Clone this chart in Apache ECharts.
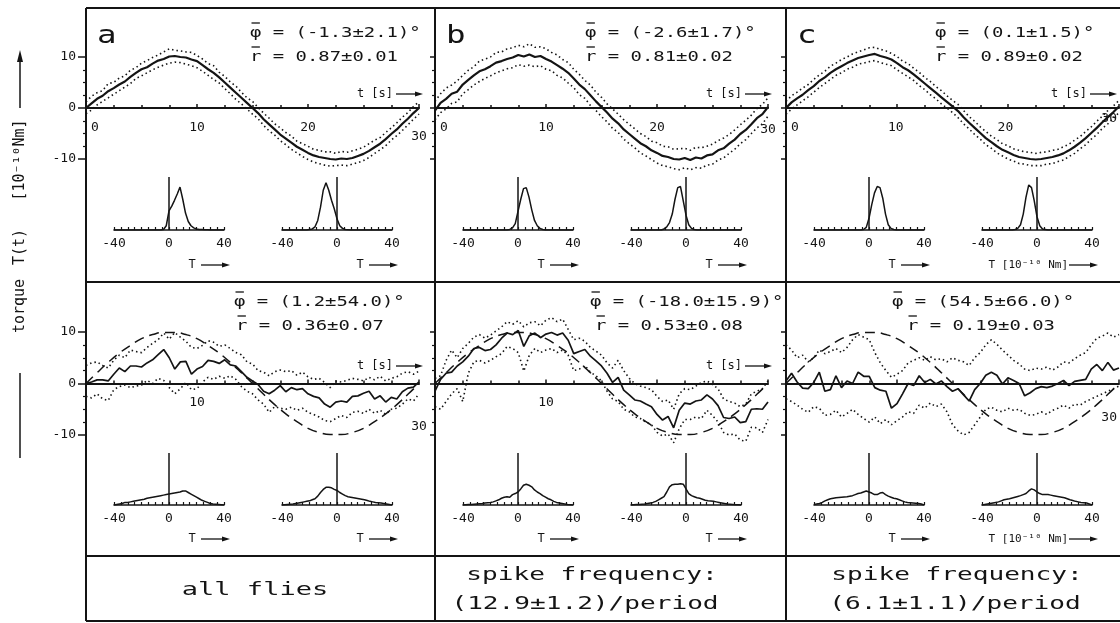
<!DOCTYPE html>
<html>
<head>
<meta charset="utf-8">
<script src="https://cdn.jsdelivr.net/npm/echarts@6/dist/echarts.min.js"></script>
<style>
  html, body { margin: 0; padding: 0; background: #fff; }
  #main { width: 1120px; height: 623px; }
</style>
</head>
<body>
<div id="main"></div>
<script>
// ---- torque traces, sampled every 0.5 s over one 30 s period [10^-10 Nm] ----
const T_STEP = 0.5;

// upper row: a, b, c  (mean trace and the two dotted bounds)
const topA_mean = [0,0.9,1.8,2.4,3.3,3.9,4.6,5.2,6.1,6.9,7.6,8.0,8.7,9.3,9.6,10.1,10.2,10.0,9.9,9.5,9.2,8.4,7.6,6.9,6.0,5.0,4.0,3.0,2.0,1.0,0.0,-1.0,-2.2,-3.2,-4.2,-5.2,-6.0,-6.8,-7.6,-8.2,-8.8,-9.3,-9.6,-9.8,-10.0,-10.1,-9.9,-10.0,-9.8,-9.4,-9.0,-8.4,-7.7,-7.0,-6.1,-5.1,-4.2,-3.1,-2.1,-1.0,0.0];
const topA_hi = [1.2,2.3,3.0,3.4,4.8,5.0,5.9,6.3,7.4,7.9,8.8,9.3,9.9,10.4,11.0,11.6,11.3,11.2,11.0,10.9,10.3,9.6,8.7,8.3,7.0,6.2,5.1,4.3,3.1,2.0,1.3,0.1,-1.0,-2.0,-3.1,-3.9,-4.8,-5.5,-6.5,-7.0,-7.5,-8.1,-8.3,-8.6,-8.6,-8.9,-8.5,-8.7,-8.4,-8.1,-7.7,-7.0,-6.3,-5.8,-4.8,-3.9,-2.9,-1.8,-0.9,0.3,1.2];
const topA_lo = [-1.1,-0.4,0.6,1.3,2.0,2.7,3.4,4.1,4.8,5.8,6.3,6.9,7.5,8.0,8.4,8.8,9.0,8.9,8.6,8.3,7.9,7.2,6.4,5.6,4.9,3.8,2.8,1.7,0.8,-0.2,-1.2,-2.1,-3.4,-4.5,-5.3,-6.4,-7.2,-8.1,-8.8,-9.5,-10.1,-10.6,-10.9,-11.2,-11.4,-11.3,-11.2,-11.3,-11.0,-10.7,-10.3,-9.7,-8.9,-8.2,-7.4,-6.3,-5.4,-4.4,-3.3,-2.2,-1.2];

const topB_mean = [-0.5,1.0,1.8,2.8,3.2,4.6,5.5,6.4,7.2,7.6,8.2,8.9,9.2,9.6,9.9,10.4,10.1,10.5,10.0,10.2,9.6,9.1,8.4,7.7,6.9,5.8,4.6,3.7,2.5,1.3,0.2,-0.9,-2.1,-3.0,-4.2,-5.1,-6.0,-6.9,-7.5,-8.3,-8.8,-9.4,-9.6,-10.0,-10.1,-9.8,-10.2,-9.7,-9.9,-9.3,-9.1,-8.3,-7.9,-7.0,-6.2,-5.1,-4.3,-3.2,-2.0,-1.2,0.2];
const topB_hi = [1.3,2.8,3.9,4.5,5.3,6.4,7.4,8.1,9.2,9.6,10.0,10.9,11.0,11.6,11.8,12.3,12.0,12.6,11.9,12.0,11.6,10.9,10.4,9.5,8.9,7.6,6.6,5.4,4.5,3.1,2.1,0.8,-0.2,-1.2,-2.3,-3.2,-4.1,-5.0,-5.6,-6.5,-6.8,-7.5,-7.6,-8.1,-8.0,-7.9,-8.3,-7.7,-7.8,-7.5,-7.1,-6.4,-5.9,-5.2,-4.3,-3.3,-2.4,-1.4,-0.1,0.7,2.0];
const topB_lo = [-2.3,-0.9,-0.2,0.9,1.2,2.8,3.6,4.5,5.2,5.8,6.3,6.9,7.3,7.7,7.9,8.5,8.2,8.4,8.1,8.3,7.6,7.3,6.4,5.9,4.9,4.0,2.6,1.9,0.5,-0.5,-1.7,-2.7,-4.0,-4.8,-6.1,-7.0,-7.8,-8.8,-9.4,-10.1,-10.8,-11.3,-11.5,-11.9,-12.1,-11.7,-12.1,-11.7,-11.8,-11.2,-11.0,-10.2,-9.8,-8.9,-8.1,-7.0,-6.2,-5.0,-3.9,-3.1,-1.6];

const topC_mean = [0,1.1,1.9,2.6,3.5,4.3,5.3,6.0,6.9,7.6,8.2,8.8,9.3,9.8,10.1,10.4,10.6,10.2,9.9,9.5,8.8,8.0,7.4,6.6,5.7,4.8,3.9,3.0,2.1,1.2,0.3,-0.6,-1.8,-2.9,-3.9,-4.9,-5.9,-6.7,-7.5,-8.2,-8.7,-9.2,-9.6,-9.8,-10.0,-10.1,-10.0,-9.8,-9.6,-9.3,-8.9,-8.3,-7.6,-6.8,-5.9,-4.9,-3.9,-2.8,-1.8,-0.8,0.3];
const topC_hi = [1.3,2.4,3.1,3.9,4.6,5.6,6.5,7.2,8.2,8.8,9.5,10.0,10.6,11.0,11.4,11.8,11.9,11.5,11.2,10.7,10.1,9.2,8.7,7.8,7.0,6.0,5.2,4.2,3.4,2.4,1.5,0.7,-0.5,-1.7,-2.6,-3.7,-4.6,-5.5,-6.2,-7.0,-7.4,-8.0,-8.3,-8.6,-8.7,-8.9,-8.7,-8.6,-8.3,-8.1,-7.6,-7.1,-6.3,-5.6,-4.6,-3.7,-2.6,-1.6,-0.5,0.4,1.5];
const topC_lo = [-1.2,-0.2,0.6,1.4,2.2,3.1,4.0,4.8,5.6,6.4,6.9,7.6,8.0,8.6,8.8,9.1,9.3,8.9,8.6,8.3,7.5,6.8,6.1,5.4,4.4,3.6,2.6,1.8,0.8,0.0,-0.9,-1.9,-3.1,-4.1,-5.2,-6.1,-7.2,-7.9,-8.8,-9.4,-10.0,-10.4,-10.9,-11.0,-11.3,-11.3,-11.3,-11.0,-10.9,-10.5,-10.2,-9.5,-8.9,-8.0,-7.2,-6.1,-5.2,-4.0,-3.1,-2.0,-0.9];

// lower row: a, b, c
const botA_mean = [0,0.3,0.7,0.7,0.5,1.8,3.0,2.3,3.4,3.4,3.2,4.0,4.6,5.6,6.6,5.0,2.8,4.2,4.3,1.8,2.8,3.3,4.5,4.3,3.9,4.6,3.6,3.4,2.3,1.2,0.5,-0.2,-1.5,-2.0,-1.3,-0.4,-1.6,-0.8,-1.2,-1.0,-2.0,-2.5,-2.8,-4.0,-4.6,-3.6,-3.4,-3.6,-2.5,-2.4,-1.9,-1.5,-3.0,-2.4,-3.6,-2.7,-3.0,-1.6,-0.9,-0.7,0.3];
const botA_hi = [3.5,4.0,4.2,3.5,3.0,4.5,5.5,5.0,6.5,6.2,6.0,7.0,7.8,8.5,9.8,8.6,9.9,9.0,8.2,7.0,6.8,7.4,8.3,8.0,7.2,7.5,6.8,6.0,5.6,4.2,3.8,2.5,2.2,1.5,2.3,2.6,2.3,2.5,1.6,2.2,1.3,0.8,1.0,0.2,-0.8,0.5,0.3,0.6,1.0,0.8,0.5,1.2,0.7,1.4,0.5,1.0,1.3,2.0,2.3,1.8,2.4];
const botA_lo = [-2.5,-2.8,-2.0,-3.0,-3.3,-1.2,-0.6,-0.3,-0.8,-0.5,-0.3,0.6,0.0,1.0,0.6,-0.8,-2.0,-1.0,0.2,-1.2,-1.0,0.3,1.2,0.8,1.4,1.0,1.5,0.8,-0.6,-1.5,-2.0,-3.2,-4.0,-5.6,-4.5,-4.8,-5.0,-4.6,-5.2,-4.8,-5.6,-6.0,-6.5,-7.2,-7.4,-6.8,-6.2,-6.6,-5.6,-5.4,-5.8,-5.0,-5.8,-5.2,-6.0,-5.0,-4.8,-4.0,-3.0,-3.4,-2.0];

const botB_mean = [-1.5,0.8,2.0,2.2,3.4,4.2,5.3,6.8,7.0,6.4,6.6,7.5,8.8,9.8,9.5,10.3,7.2,9.3,9.8,8.9,9.6,9.9,9.4,9.8,8.4,5.8,6.2,6.6,5.3,4.4,3.4,2.0,0.2,1.2,-1.3,-2.2,-3.2,-3.4,-4.0,-4.5,-6.0,-7.1,-6.4,-8.6,-5.2,-3.8,-4.0,-3.4,-3.2,-2.2,-3.0,-4.3,-6.6,-6.8,-6.5,-7.6,-7.4,-5.0,-4.9,-5.0,-3.6];
const botB_hi = [1.0,1.5,4.5,6.5,5.0,6.8,7.8,9.0,9.5,8.8,9.4,10.2,11.0,12.0,11.5,12.2,11.0,11.8,12.0,11.2,12.3,12.8,12.0,12.5,10.5,8.5,8.8,8.2,7.0,6.3,5.5,4.0,3.0,4.5,2.5,1.0,0.0,-0.5,-0.8,-1.2,-2.5,-3.5,-3.2,-5.0,-2.0,-1.0,-1.2,-0.5,0.2,0.5,-0.2,-1.0,-3.0,-3.5,-3.8,-4.5,-4.0,-2.0,-1.5,-1.0,0.5];
const botB_lo = [-4.5,-5.0,-3.5,-2.0,-1.0,-3.5,2.0,4.2,4.5,4.0,4.5,5.2,5.8,7.2,6.8,6.0,2.4,5.5,6.8,6.0,6.5,6.8,6.0,6.5,5.5,2.5,2.8,3.5,2.2,1.5,0.5,-1.5,-3.0,-3.5,-5.0,-5.5,-6.5,-6.8,-7.5,-8.0,-9.5,-10.2,-9.8,-11.5,-8.8,-7.0,-7.0,-6.5,-6.8,-5.2,-6.2,-7.5,-9.5,-10.0,-9.8,-11.0,-11.2,-8.5,-8.6,-9.5,-7.0];

const botC_mean = [0.5,2.0,0.3,-0.9,-1.0,0.2,2.2,-1.5,-1.2,1.5,-0.8,0.5,0.0,2.2,1.4,1.4,-0.8,-1.3,-1.5,-4.8,-3.9,-2.0,0.0,-0.4,1.5,0.2,0.8,-0.1,0.5,-0.6,-1.5,-1.0,-2.2,-3.4,-1.2,0.0,1.6,2.2,1.6,-0.1,1.1,0.6,0.0,-2.4,-1.8,-1.0,-0.6,-0.8,-0.5,0.0,0.6,-0.4,0.4,0.6,0.8,2.8,3.7,2.5,4.1,2.6,3.0];
const botC_hi = [7.5,6.5,5.0,5.5,4.2,5.0,6.5,5.8,6.2,6.8,6.0,7.0,8.5,9.5,9.0,8.5,6.0,4.0,2.5,1.2,1.8,2.5,4.0,4.5,5.0,4.5,5.2,4.6,4.8,4.2,5.0,4.5,4.2,3.5,5.0,6.0,7.5,8.5,7.6,6.5,5.5,4.5,3.8,2.8,2.5,3.0,2.8,3.2,2.6,3.2,4.2,4.0,4.8,5.5,6.0,7.5,8.8,9.2,9.8,9.0,9.5];
const botC_lo = [-3.0,-3.5,-4.2,-5.0,-5.6,-4.5,-4.8,-6.2,-6.0,-5.2,-6.5,-5.8,-5.0,-6.0,-6.8,-7.5,-6.5,-7.8,-7.0,-8.0,-7.2,-6.5,-5.5,-5.8,-4.2,-4.8,-3.8,-4.5,-4.0,-5.5,-8.0,-9.2,-10.0,-9.5,-8.0,-6.5,-5.0,-4.6,-5.2,-5.5,-4.8,-5.2,-5.0,-5.8,-6.2,-6.0,-5.5,-6.0,-5.2,-4.8,-4.2,-4.8,-4.0,-4.2,-3.5,-3.0,-2.5,-2.0,-1.5,-1.0,-0.5];

// dashed reference course of the lower row, one value per second
const REF_STEP = 1;
const refCourse = [0,2.1,4.1,5.9,7.4,8.7,9.5,9.9,9.9,9.5,8.7,7.4,5.9,4.1,2.1,0,-2.1,-4.1,-5.9,-7.4,-8.7,-9.5,-9.9,-9.9,-9.5,-8.7,-7.4,-5.9,-4.1,-2.1,0];

// ---- torque histograms (relative frequency, %) ----
const histT = [-40,-38,-36,-34,-32,-30,-28,-26,-24,-22,-20,-18,-16,-14,-12,-10,-8,-6,-4,-2,0,2,4,6,8,10,12,14,16,18,20,22,24,26,28,30,32,34,36,38,40];

const histTopA_L = [0,0,0,0,0,0,0,0,0,0,0,0,0,0,0,0,0,0,1,8,36,45,56,68,81,58,32,16,8,4,2,1,1,0.5,0.5,0,0,0,0,0,0];
const histTopA_R = [0,0,0,0,0,0,0,0,0,0,1,2,6,18,43,75,89,75,56,40,21,8,3,1,0.5,0,0,0,0,0,0,0,0,0,0,0,0,0,0,0,0];
const histTopB_L = [0,0,0,0,0,0,0,0,0,0,0,0,0,0,0,0,0,1,4,12,35,58,78,80,62,38,18,8,3,1,0,0,0,0,0,0,0,0,0,0,0];
const histTopB_R = [0,0,0,0,0,0,0,0,0,0,0,0,2,6,14,30,58,80,82,55,28,10,3,1,0,0,0,0,0,0,0,0,0,0,0,0,0,0,0,0,0];
const histTopC_L = [0,0,0,0,0,0,0,0,0,0,0,0,0,0,0,0,0,0,1,5,22,48,70,82,80,60,30,10,3,1,0,0,0,0,0,0,0,0,0,0,0];
const histTopC_R = [0,0,0,0,0,0,0,0,0,0,0,0,1,3,10,30,62,85,80,55,25,8,2,1,0,0,0,0,0,0,0,0,0,0,0,0,0,0,0,0,0];

const histBotA_L = [0,1,2,3,5,5,6,7,8,9,10,11,13,14,15,16,17,18,19,20,21,22,23,24,25,27,27,24,21,18,15,12,9,7,5,3,2,1.5,1,0.5,0];
const histBotA_R = [0,0.5,1,1.5,2,3,4,5,6,7,8,10,12,17,24,30,34,34,33,30,28,24,21,18,16,15,14,13,12,11,10,8.5,7,6,5,4.5,4,3,2,1,0];
const histBotB_L = [0,0.5,1,1,1.5,2,2.5,3,4,4.5,5,6,8,10,13,15,16,15,20,22,25,31,38,40,38,35,29,25,22,18,15,12,10,7,5,4,3,2,1,0.5,0];
const histBotB_R = [0,0.5,1,1,1.5,2,3,4,5,7,10,13,16,25,35,39,40,40,41,40,31,22,18,16,14,13,11,9,8,7.5,7,6,5,4,3,2,1.5,1,0.5,0.5,0];
const histBotC_L = [1,2,3,5,8,10,12,13,14,14.5,15,15.5,16,17,18,20,22,23,25,27,25,23,20,20,23,24,20,17,15,13,12,10,8,6,5,4.5,4,3.5,3,2,0];
const histBotC_R = [0,1,2,3,4,5,6,8,10,11,12,13.5,15,16.5,18,20,22,27,31,29,25,22,20,20,20,19,18,17,16,15,14,12,10,8.5,7,6,5,4.5,4,2,0];

// ---- annotation texts (the leading symbol carries a bar drawn above it) ----
const panelLetters = ['a', 'b', 'c'];
const statsTop = [
  ['φ = (-1.3±2.1)°', 'r = 0.87±0.01'],
  ['φ = (-2.6±1.7)°', 'r = 0.81±0.02'],
  ['φ = (0.1±1.5)°',  'r = 0.89±0.02']
];
const statsBot = [
  ['φ = (1.2±54.0)°',   'r = 0.36±0.07'],
  ['φ = (-18.0±15.9)°', 'r = 0.53±0.08'],
  ['φ = (54.5±66.0)°',  'r = 0.19±0.03']
];
const groupTitles = [['all flies'], ['spike frequency:', '(12.9±1.2)/period'], ['spike frequency:', '(6.1±1.1)/period']];

// ---------------------------------------------------------------------------
const FONT = '"DejaVu Sans Mono", "Liberation Mono", monospace';
const INK = '#141414';

const colLeft = [86, 435, 786];
const tsTop = [57, 332], tsH = [102, 103];     // trace grids (y: -10..10)
const hTop = [177, 453], hH = [53, 52];        // histogram grids
const T_SPAN = 333;                            // 0..30 s
const H_OFF = [28, 196], H_W = 110;            // histogram offsets inside a column

const toPairs = (arr, step) => arr.map((v, i) => [i * step, v]);
const histPairs = arr => arr.map((v, i) => [histT[i], v]);

const panels = [
  { row: 0, col: 0, mean: topA_mean, hi: topA_hi, lo: topA_lo, hL: histTopA_L, hR: histTopA_R, tl: {0: 9, 10: 9, 20: 9, 30: 18} },
  { row: 0, col: 1, mean: topB_mean, hi: topB_hi, lo: topB_lo, hL: histTopB_L, hR: histTopB_R, tl: {0: 9, 10: 9, 20: 9, 30: 11} },
  { row: 0, col: 2, mean: topC_mean, hi: topC_hi, lo: topC_lo, hL: histTopC_L, hR: histTopC_R, tl: {0: 9, 10: 9, 20: 9, 30: 0} },
  { row: 1, col: 0, mean: botA_mean, hi: botA_hi, lo: botA_lo, hL: histBotA_L, hR: histBotA_R, tl: {10: 9, 30: 33}, ref: true },
  { row: 1, col: 1, mean: botB_mean, hi: botB_hi, lo: botB_lo, hL: histBotB_L, hR: histBotB_R, tl: {10: 9}, ref: true },
  { row: 1, col: 2, mean: botC_mean, hi: botC_hi, lo: botC_lo, hL: histBotC_L, hR: histBotC_R, tl: {30: 24}, ref: true }
];

const grid = [], xAxis = [], yAxis = [], series = [];
function addGrid(g, xa, ya) {
  const i = grid.length;
  grid.push(g);
  xa.gridIndex = i; ya.gridIndex = i;
  xAxis.push(xa); yAxis.push(ya);
  return i;
}
const lbl = (size) => ({ fontFamily: FONT, fontSize: size, color: INK });
const hiddenY = () => ({ type: 'value', show: false, splitLine: { show: false } });

panels.forEach(p => {
  const left = colLeft[p.col];
  // ---- time trace ----
  const gi = addGrid(
    { left: left, top: tsTop[p.row], width: T_SPAN, height: tsH[p.row] },
    {
      type: 'value', min: 0, max: 30, interval: 10,
      axisLine: { onZero: true, lineStyle: { color: INK, width: 2 } },
      axisTick: { show: true, inside: true, length: 4, lineStyle: { color: INK, width: 1.5 } },
      minorTick: { show: true, splitNumber: 4, length: 3, lineStyle: { color: INK, width: 1.5 } },
      splitLine: { show: false }, minorSplitLine: { show: false },
      axisLabel: { show: false }
    },
    {
      type: 'value', min: -10, max: 10, interval: 10,
      axisLine: { show: false },
      axisTick: { show: true, length: p.col === 0 ? 8 : 5, lineStyle: { color: INK, width: 1.5 } },
      minorTick: { show: true, splitNumber: 4, length: 3, lineStyle: { color: INK, width: 1.2 } },
      splitLine: { show: false }, minorSplitLine: { show: false },
      axisLabel: Object.assign({ show: p.col === 0, margin: 10 }, lbl(13))
    }
  );
  // time labels hang from the zero line: a companion axis whose bottom edge sits at T = 0
  const rich = {};
  Object.keys(p.tl).forEach(k => {
    rich['p' + k] = Object.assign(lbl(13), { padding: [p.tl[k], k === '30' && p.col === 2 ? 12 : 0, 0, k === '0' ? 18 : 0] });
  });
  addGrid(
    { left: left, top: tsTop[p.row], width: T_SPAN, height: tsH[p.row] / 2 },
    {
      type: 'value', min: 0, max: 30, interval: 10,
      axisLine: { show: false }, axisTick: { show: false }, splitLine: { show: false },
      axisLabel: { margin: 4, formatter: v => (v in p.tl) ? '{p' + v + '|' + v + '}' : '', rich: rich }
    },
    hiddenY()
  );

  const common = { type: 'line', xAxisIndex: gi, yAxisIndex: gi, showSymbol: false, silent: true, clip: false };
  series.push(Object.assign({}, common, { data: toPairs(p.hi, T_STEP), lineStyle: { color: INK, width: 1.6, type: [1.5, 3] }, z: 2 }));
  series.push(Object.assign({}, common, { data: toPairs(p.lo, T_STEP), lineStyle: { color: INK, width: 1.6, type: [1.5, 3] }, z: 2 }));
  if (p.ref) {
    series.push(Object.assign({}, common, { data: toPairs(refCourse, REF_STEP), smooth: true, lineStyle: { color: INK, width: 1.5, type: [10, 6] }, z: 2 }));
  }
  series.push(Object.assign({}, common, { data: toPairs(p.mean, T_STEP), lineStyle: { color: INK, width: p.row === 0 ? 2.2 : 1.7 }, z: 3 }));

  // ---- the two histograms ----
  [p.hL, p.hR].forEach((h, k) => {
    const hi = addGrid(
      { left: left + H_OFF[k], top: hTop[p.row], width: H_W, height: hH[p.row] },
      {
        type: 'value', min: -40, max: 40, interval: 40,
        axisLine: { onZero: false, lineStyle: { color: INK, width: 1.6 } },
        axisTick: { show: true, inside: true, length: 3, lineStyle: { color: INK, width: 1.2 } },
        minorTick: { show: true, splitNumber: 8, length: 3, lineStyle: { color: INK, width: 1.2 } },
        splitLine: { show: false }, minorSplitLine: { show: false },
        axisLabel: Object.assign({ margin: 7 }, lbl(13))
      },
      { type: 'value', min: 0, max: 100, show: false, splitLine: { show: false } }
    );
    series.push({
      type: 'line', xAxisIndex: hi, yAxisIndex: hi, data: histPairs(h), showSymbol: false, silent: true,
      lineStyle: { color: INK, width: 1.5 },
      markLine: {
        silent: true, symbol: 'none', label: { show: false },
        lineStyle: { color: INK, width: 1.5, type: 'solid' },
        data: [{ xAxis: 0 }]
      }
    });
  });
});

// ---- frame, titles and labels ----
const g = [];
const line = (x1, y1, x2, y2, w) => ({ type: 'line', silent: true, shape: { x1, y1, x2, y2 }, style: { stroke: INK, lineWidth: w || 2 } });
const text = (x, y, s, size, align, sx, rot) => ({
  type: 'text', silent: true, x, y, scaleX: sx || 1, rotation: rot || 0,
  style: { text: s, font: size + 'px ' + FONT, fill: INK, textAlign: align || 'left', textVerticalAlign: 'middle' }
});
function hArrow(x1, x2, y) {
  g.push(line(x1, y, x2 - 5, y, 1.3));
  g.push({ type: 'polygon', silent: true, shape: { points: [[x2, y], [x2 - 8, y - 2.6], [x2 - 8, y + 2.6]] }, style: { fill: INK } });
}
// statistic with a bar over its leading symbol
const STAT_SX = 1.35, STAT_ADV = 14 * 0.602 * STAT_SX;
function stat(x, y, s) {
  g.push(text(x, y, s, 14, 'left', STAT_SX));
  g.push(line(x + 1.5, y - 10, x + STAT_ADV - 1.5, y - 10, 1.3));
}

// panel frame
[8, 282, 556, 621].forEach(y => g.push(line(86, y, 1130, y)));
[86, 435, 786].forEach(x => g.push(line(x, 8, x, 621)));

colLeft.forEach((left, c) => {
  g.push(text(left + 11, 36, panelLetters[c], 25, 'left', 1.3));
  const sx = [250, 585, 935][c];
  stat(sx, 33, statsTop[c][0]);
  stat(sx, 57, statsTop[c][1]);
  stat([234, 590, 892][c], 302, statsBot[c][0]);
  stat([236, 595, 907][c], 326, statsBot[c][1]);
  // histogram axis names
  [0, 1].forEach(r => {
    const y = [265, 539][r];
    [0, 1].forEach(k => {
      const hl = left + H_OFF[k];
      if (c === 2 && k === 1) {
        g.push(text(hl + 86, y, 'T [10⁻¹⁰ Nm]', 11, 'right', 1));
      } else {
        g.push(text(hl + 78, y, 'T', 12, 'center', 1));
      }
      hArrow(hl + 87, hl + 116, y);
    });
  });
});

// time-axis names
[[0, 0], [0, 1], [0, 2], [1, 0], [1, 1]].forEach(([r, c]) => {
  const end = Math.min(colLeft[c] + T_SPAN + 4, 1117);
  const y = [94, 366][r];
  g.push(text(end - 30, y, 't [s]', 12, 'right', 1));
  hArrow(end - 27, end, y);
});

// y-axis title
g.push(text(20, 160, '[10⁻¹⁰Nm]', 15, 'center', 1, Math.PI / 2));
g.push(text(20, 247, 'T(t)', 15, 'center', 1, Math.PI / 2));
g.push(text(20, 306, 'torque', 15, 'center', 1, Math.PI / 2));
g.push(line(20, 60, 20, 108, 1.5));
g.push({ type: 'polygon', silent: true, shape: { points: [[20, 50], [17, 62], [23, 62]] }, style: { fill: INK } });
g.push(line(20, 373, 20, 458, 1.5));

// group titles below the panels
g.push(text(255, 590, groupTitles[0][0], 18, 'center', 1.5));
g.push(text(592, 575, groupTitles[1][0], 18, 'center', 1.45));
g.push(text(585, 604, groupTitles[1][1], 18, 'center', 1.45));
g.push(text(957, 575, groupTitles[2][0], 18, 'center', 1.45));
g.push(text(955, 604, groupTitles[2][1], 18, 'center', 1.45));

const chart = echarts.init(document.getElementById('main'), null, { renderer: 'canvas' });
chart.setOption({
  animation: false,
  backgroundColor: '#fff',
  grid, xAxis, yAxis, series,
  graphic: { elements: g }
});
</script>
</body>
</html>
